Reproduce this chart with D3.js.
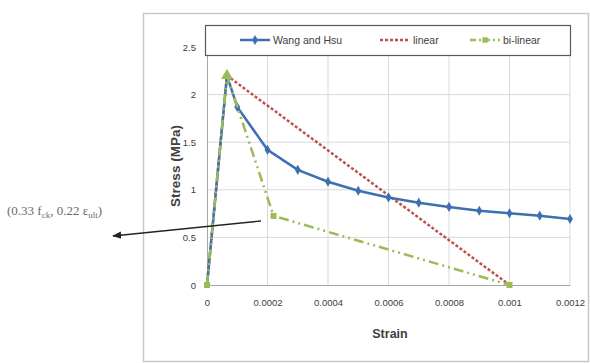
<!DOCTYPE html>
<html>
<head>
<meta charset="utf-8">
<script src="https://cdn.jsdelivr.net/npm/d3@7"></script>
<style>
  body { margin: 0; background: #fff; }
  svg { display: block; }
  .tick text { font-family: "Liberation Sans", sans-serif; font-size: 9.5px; fill: #404040; }
</style>
</head>
<body>
<script>
// Data
const wangStrain = [0, 0.000066, 0.0001, 0.0002, 0.0003, 0.0004, 0.0005, 0.0006, 0.0007, 0.0008, 0.0009, 0.001, 0.0011, 0.0012];
const wangStress = [0, 2.2, 1.87, 1.42, 1.21, 1.085, 0.99, 0.92, 0.865, 0.82, 0.78, 0.753, 0.728, 0.693];
const linearStrain = [0, 0.000066, 0.001];
const linearStress = [0, 2.2, 0];
const bilinStrain = [0, 0.000066, 0.00022, 0.001];
const bilinStress = [0, 2.2, 0.726, 0];
const xTicks = [0, 0.0002, 0.0004, 0.0006, 0.0008, 0.001, 0.0012];
const yTicks = [0, 0.5, 1, 1.5, 2, 2.5];
const seriesNames = ["Wang and Hsu", "linear", "bi-linear"];

const w = 590, h = 363;
const svg = d3.select("body").append("svg").attr("width", w).attr("height", h);

// outer chart frame
svg.append("rect")
  .attr("x", 143.5).attr("y", 13.5)
  .attr("width", 445).attr("height", 348)
  .attr("fill", "#fff").attr("stroke", "#c8c8c8").attr("stroke-width", 1.5);

const x = d3.scaleLinear().domain([0, 0.0012]).range([207, 570]);
const y = d3.scaleLinear().domain([0, 2.5]).range([285, 47]);

// gridlines
svg.append("g").selectAll("line").data(yTicks.slice(1)).join("line")
  .attr("x1", x(0)).attr("x2", x(0.0012))
  .attr("y1", d => y(d)).attr("y2", d => y(d))
  .attr("stroke", "#d9d9d9");
svg.append("g").selectAll("line").data(xTicks.slice(1)).join("line")
  .attr("x1", d => x(d)).attr("x2", d => x(d))
  .attr("y1", y(0)).attr("y2", y(2.5))
  .attr("stroke", "#d9d9d9");

// axes
const fmt = d => d === 0 ? "0" : String(+d.toFixed(4));
svg.append("g")
  .attr("transform", `translate(0,${y(0)})`)
  .call(d3.axisBottom(x).tickValues(xTicks).tickFormat(fmt).tickSize(0).tickPadding(14))
  .call(g => g.select(".domain").attr("stroke", "#a6a6a6"));
svg.append("g")
  .attr("transform", `translate(${x(0)},0)`)
  .call(d3.axisLeft(y).tickValues(yTicks).tickFormat(d => String(d)).tickSize(0).tickPadding(11))
  .call(g => g.select(".domain").attr("stroke", "#a6a6a6"));

// axis titles
svg.append("text")
  .attr("x", 390).attr("y", 338)
  .attr("text-anchor", "middle")
  .style("font-family", "Liberation Sans, sans-serif")
  .style("font-size", "12.5px").style("font-weight", "bold").style("fill", "#404040")
  .text("Strain");
svg.append("text")
  .attr("transform", "rotate(-90)")
  .attr("x", -166).attr("y", 180)
  .attr("text-anchor", "middle")
  .style("font-family", "Liberation Sans, sans-serif")
  .style("font-size", "13.5px").style("font-weight", "bold").style("fill", "#404040")
  .text("Stress (MPa)");

const line = d3.line().x(d => x(d[0])).y(d => y(d[1]));
const colors = ["#3e6fb0", "#c0504d", "#9bbb59"];

const wang = d3.zip(wangStrain, wangStress);
const lin = d3.zip(linearStrain, linearStress);
const bil = d3.zip(bilinStrain, bilinStress);

svg.append("path").datum(lin).attr("d", line)
  .attr("fill", "none").attr("stroke", colors[1]).attr("stroke-width", 2.5)
  .attr("stroke-dasharray", "3,2");
svg.append("path").datum(wang).attr("d", line)
  .attr("fill", "none").attr("stroke", colors[0]).attr("stroke-width", 2.5);
svg.append("g").selectAll("path").data(wang.slice(1)).join("path")
  .attr("transform", d => `translate(${x(d[0])},${y(d[1])})`)
  .attr("d", d3.symbol(d3.symbolDiamond, 30))
  .attr("fill", colors[0]);
svg.append("path").datum(bil).attr("d", line)
  .attr("fill", "none").attr("stroke", colors[2]).attr("stroke-width", 2.5)
  .attr("stroke-dasharray", "10,4,2,4,2,4");
svg.append("g").selectAll("path").data(bil).join("path")
  .attr("transform", d => `translate(${x(d[0])},${y(d[1])})`)
  .attr("d", (d, i) => d3.symbol(i === 1 ? d3.symbolTriangle : d3.symbolSquare, i === 1 ? 60 : 36)())
  .attr("fill", colors[2]);

// legend
const legend = svg.append("g");
legend.append("rect")
  .attr("x", 205.5).attr("y", 25.5).attr("width", 365).attr("height", 30)
  .attr("fill", "#fff").attr("stroke", "#595959").attr("stroke-width", 1.2);
const legX = [240, 380, 470];
const dashes = [null, "3,2", "6,3,2,3"];
seriesNames.forEach((name, i) => {
  legend.append("line")
    .attr("x1", legX[i]).attr("x2", legX[i] + 30)
    .attr("y1", 40).attr("y2", 40)
    .attr("stroke", colors[i]).attr("stroke-width", 2.5)
    .attr("stroke-dasharray", dashes[i]);
  if (i !== 1) {
    legend.append("path")
      .attr("transform", `translate(${legX[i] + 15},40)`)
      .attr("d", d3.symbol(i === 0 ? d3.symbolDiamond : d3.symbolSquare, 30))
      .attr("fill", colors[i]);
  }
  legend.append("text")
    .attr("x", legX[i] + 33).attr("y", 44)
    .style("font-family", "Liberation Sans, sans-serif")
    .style("font-size", "10.5px").style("fill", "#404040")
    .text(name);
});

// annotation
const ann = svg.append("text")
  .attr("x", 7).attr("y", 215)
  .style("font-family", "Liberation Serif, serif")
  .style("font-size", "13px").style("fill", "#6b6b6b");
ann.append("tspan").text("(0.33 f");
ann.append("tspan").attr("dy", 2.5).style("font-size", "9px").text("ck");
ann.append("tspan").attr("dy", -2.5).text(", 0.22 ε");
ann.append("tspan").attr("dy", 2.5).style("font-size", "9px").text("ult");
ann.append("tspan").attr("dy", -2.5).text(")");

svg.append("defs").append("marker")
  .attr("id", "arrow").attr("viewBox", "0 0 10 10")
  .attr("refX", 9).attr("refY", 5)
  .attr("markerWidth", 7).attr("markerHeight", 7)
  .attr("orient", "auto")
  .append("path").attr("d", "M0,1L10,5L0,9Z").attr("fill", "#222");
svg.append("line")
  .attr("x1", 261).attr("y1", 221).attr("x2", 113).attr("y2", 236)
  .attr("stroke", "#222").attr("stroke-width", 1.3)
  .attr("marker-end", "url(#arrow)");
</script>
</body>
</html>
